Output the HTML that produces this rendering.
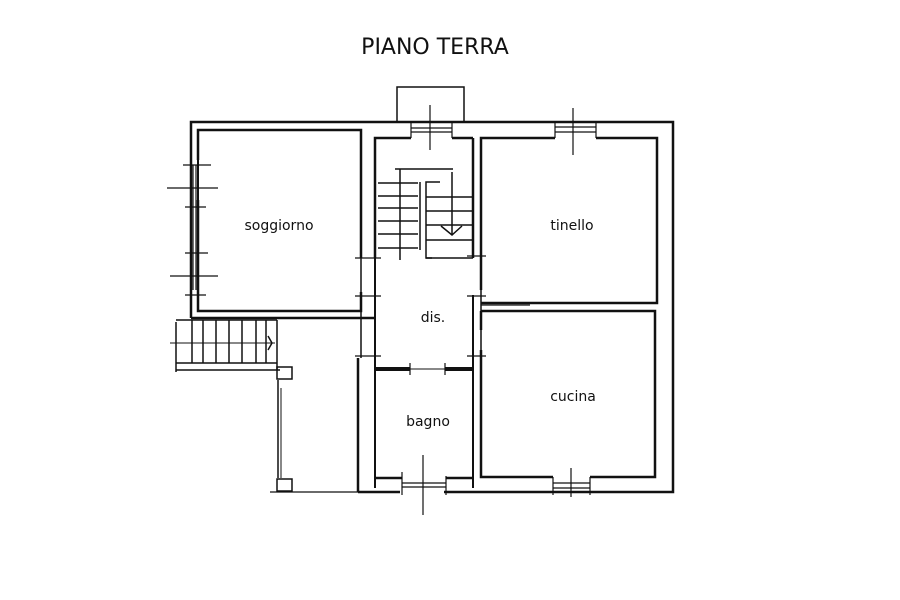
<!DOCTYPE html>
<html><head><meta charset="utf-8"><style>
html,body{margin:0;padding:0;background:#fff;}
svg{display:block}
text{font-family:"DejaVu Sans","Liberation Sans",sans-serif;fill:#111}
</style></head><body>
<svg width="900" height="600" viewBox="0 0 900 600" xmlns="http://www.w3.org/2000/svg">
<text x="435" y="54" font-size="22" text-anchor="middle">PIANO TERRA</text>
<g stroke="#111" fill="none" stroke-width="2.5">
<polyline points="191,318 191,122 673,122 673,492 444,492"/>
<polyline points="400,492 358,492"/>
<polyline points="397,122 397,87 464,87 464,122" stroke-width="1.5"/>
<polyline points="198,160 198,130 361,130 361,258" />
<polyline points="198,200 198,311 361,311 361,292"/>
<polyline points="191,318 374,318" />
<line x1="198" y1="130" x2="198" y2="311" stroke-width="2"/>
<polyline points="375,258 375,138 411,138"/>
<line x1="452" y1="138" x2="473" y2="138"/>
<line x1="473" y1="138" x2="473" y2="258"/>
<line x1="375" y1="258" x2="375" y2="488" stroke-width="2"/>
<line x1="358" y1="358" x2="358" y2="492" stroke-width="2.5"/>
<line x1="361" y1="258" x2="361" y2="358" stroke-width="1.5"/>
<line x1="481" y1="258" x2="481" y2="360" stroke-width="1.5"/>
<polyline points="481,290 481,138 555,138"/>
<polyline points="596,138 657,138 657,303 481,303"/>
<polyline points="481,311 655,311 655,477 590,477"/>
<polyline points="553,477 481,477 481,350"/>
<line x1="473" y1="295" x2="473" y2="488" stroke-width="2"/>
<line x1="481" y1="311" x2="481" y2="330"/>
<line x1="375" y1="369" x2="410" y2="369" stroke-width="4"/>
<line x1="445" y1="369" x2="472" y2="369" stroke-width="4"/>
<line x1="410" y1="369" x2="445" y2="369" stroke-width="1"/>
<polyline points="375,478 402,478"/>
<polyline points="446,478 473,478"/>
<g stroke-width="1.2">
<line x1="411" y1="128" x2="452" y2="128"/><line x1="411" y1="132" x2="452" y2="132"/>
<line x1="411" y1="122" x2="411" y2="138"/><line x1="452" y1="122" x2="452" y2="138"/>
<line x1="430" y1="105" x2="430" y2="150"/>
<line x1="555" y1="127" x2="596" y2="127"/><line x1="555" y1="132" x2="596" y2="132"/>
<line x1="555" y1="122" x2="555" y2="138"/><line x1="596" y1="122" x2="596" y2="138"/>
<line x1="573" y1="108" x2="573" y2="155"/>
<line x1="553" y1="483" x2="590" y2="483"/><line x1="553" y1="488" x2="590" y2="488"/>
<line x1="553" y1="477" x2="553" y2="495"/><line x1="590" y1="477" x2="590" y2="495"/>
<line x1="571" y1="468" x2="571" y2="497"/>
<line x1="402" y1="483" x2="446" y2="483"/><line x1="402" y1="487" x2="446" y2="487"/>
<line x1="402" y1="472" x2="402" y2="495"/><line x1="446" y1="476" x2="446" y2="495"/>
<line x1="423" y1="455" x2="423" y2="515"/>
<line x1="193" y1="165" x2="193" y2="290"/><line x1="196" y1="165" x2="196" y2="290"/>
<line x1="183" y1="165" x2="211" y2="165"/>
<line x1="167" y1="188" x2="218" y2="188"/>
<line x1="185" y1="207" x2="206" y2="207"/>
<line x1="185" y1="253" x2="208" y2="253"/>
<line x1="170" y1="276" x2="218" y2="276"/>
<line x1="185" y1="295" x2="206" y2="295"/>
<line x1="355" y1="258" x2="381" y2="258"/><line x1="355" y1="296" x2="381" y2="296"/>
<line x1="355" y1="356" x2="381" y2="356"/>
<line x1="467" y1="296" x2="486" y2="296"/><line x1="467" y1="356" x2="486" y2="356"/>
<line x1="467" y1="256" x2="486" y2="256"/>
<line x1="481" y1="305" x2="530" y2="305"/>
<line x1="410" y1="363" x2="410" y2="375"/><line x1="445" y1="363" x2="445" y2="375"/>
</g>
<g stroke-width="1.5">
<line x1="378" y1="183" x2="418" y2="183"/>
<line x1="378" y1="196" x2="418" y2="196"/>
<line x1="378" y1="208" x2="418" y2="208"/>
<line x1="378" y1="221" x2="418" y2="221"/>
<line x1="378" y1="234" x2="418" y2="234"/>
<line x1="378" y1="248" x2="418" y2="248"/>
<line x1="420" y1="182" x2="420" y2="250"/>
<line x1="395" y1="169" x2="453" y2="169"/>
<line x1="400" y1="169" x2="400" y2="260"/>
<polyline points="432,258 426,258 426,182 440,182"/>
<line x1="426" y1="197" x2="472" y2="197"/>
<line x1="426" y1="211" x2="472" y2="211"/>
<line x1="426" y1="225" x2="472" y2="225"/>
<line x1="426" y1="240" x2="472" y2="240"/>
<line x1="426" y1="258" x2="473" y2="258"/>
<line x1="452" y1="172" x2="452" y2="235"/>
<polyline points="441,226 452,235 462,226"/>
</g>
<g stroke-width="1.5">
<line x1="176" y1="320" x2="277" y2="320"/>
<line x1="176" y1="363" x2="277" y2="363"/>
<line x1="176" y1="370" x2="280" y2="370"/>
<line x1="176" y1="322" x2="176" y2="372"/>
<line x1="170" y1="343" x2="275" y2="343" stroke-width="1"/>
<line x1="192" y1="320" x2="192" y2="363"/>
<line x1="203" y1="320" x2="203" y2="363"/>
<line x1="216" y1="320" x2="216" y2="363"/>
<line x1="229" y1="320" x2="229" y2="363"/>
<line x1="242" y1="320" x2="242" y2="363"/>
<line x1="256" y1="320" x2="256" y2="363"/>
<line x1="266" y1="320" x2="266" y2="363"/>
<line x1="277" y1="320" x2="277" y2="370"/>
<polyline points="268,336 272,343 268,350"/>
<rect x="277" y="367" width="15" height="12"/>
<rect x="277" y="479" width="15" height="12"/>
<line x1="278" y1="380" x2="278" y2="478"/>
<line x1="281" y1="388" x2="281" y2="478" stroke-width="1"/>
<line x1="270" y1="492" x2="358" y2="492" stroke-width="1.2"/>
</g>
</g>
<g font-size="14" text-anchor="middle">
<text x="279" y="230">soggiorno</text>
<text x="572" y="230">tinello</text>
<text x="433" y="322">dis.</text>
<text x="573" y="401">cucina</text>
<text x="428" y="426">bagno</text>
</g>
</svg>
</body></html>
